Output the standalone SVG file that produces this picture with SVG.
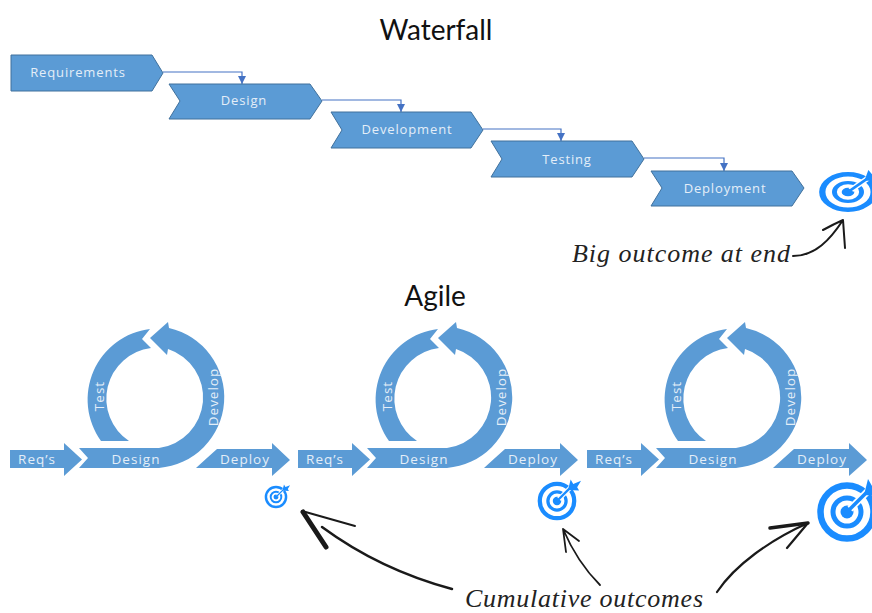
<svg xmlns="http://www.w3.org/2000/svg" width="872" height="613" viewBox="0 0 872 613">
<style>
.sh{fill:#5b9bd5}
.wf{fill:#5b9bd5;stroke:#41719c;stroke-width:1}
.lb{font-family:"Open Sans","Noto Sans",sans-serif;font-size:13px;fill:#e4eef8;text-anchor:middle;letter-spacing:.85px}
.al{font-size:13.5px;letter-spacing:1px}
.ttl{font-family:"Lato","Open Sans",sans-serif;font-size:28px;fill:#111;text-anchor:middle}
.hw{font-family:"Liberation Serif",serif;font-style:italic;font-size:26px;fill:#222}
.cn{fill:none;stroke:#4472c4;stroke-width:1.2}
.sk{fill:none;stroke:#1a1a1a;stroke-linecap:round;stroke-linejoin:round}
.tr{fill:none;stroke:#1a8cff}
</style>
<defs>
<marker id="ah" markerUnits="userSpaceOnUse" markerWidth="9" markerHeight="9" refX="8" refY="4" orient="auto"><path d="M0,0L8,4L0,8Z" fill="#4472c4"/></marker>
<path id="reqs" class="sh" d="M10,450H64V443L82,459.500L64,476V468H10Z"/>
<path id="design" class="sh" d="M79,448H159A51,51 0 0 0 168,349L167,355L150,338L168,322L169,328A71,71 0 0 1 159,468H79L88,458Z"/>
<path id="test" class="sh" d="M101,441A71,71 0 0 1 150,329L142,339L151,348A51,51 0 0 0 129,441Z"/>
<path id="deploy" class="sh" d="M196,468Q208,457 217,449H272V443L290,460L272,476V468Z"/>
<g id="tgt">
<circle class="tr" r="26.500" stroke-width="6.500"/>
<circle class="tr" r="14" stroke-width="5"/>
<circle r="6.500" fill="#1a8cff"/>
<path d="M3,-3L24,-24" stroke="#fff" stroke-width="7"/>
<path d="M0,0L24,-24" stroke="#1a8cff" stroke-width="3.500"/>
<path d="M17,-17L21,-33L25,-26L37,-31L31,-21L34,-16Z" fill="#1a8cff"/>
</g>
</defs>

<text id="title-waterfall" class="ttl" x="436" y="40">Waterfall</text>
<text id="title-agile" class="ttl" x="435" y="306">Agile</text>

<g id="connectors">
<path class="cn" marker-end="url(#ah)" d="M163,72H242V84"/>
<path class="cn" marker-end="url(#ah)" d="M322,100H401V112"/>
<path class="cn" marker-end="url(#ah)" d="M483,129H561V141"/>
<path class="cn" marker-end="url(#ah)" d="M644,158H724V171"/>
<path class="sk" stroke-width="2" d="M793,256C815,256 830,240 843,220M823,230Q834,224 843,220Q844,234 845,248"/>
<path class="sk" stroke-width="2.500" d="M452,589C400,575 360,555 322,527"/>
<path class="sk" stroke-width="2" d="M302,511L355,526"/>
<path class="sk" stroke-width="5" d="M303,512L326,547"/>
<path class="sk" stroke-width="1.800" d="M600,585C585,570 572,550 563,529L579,541M563,529L566,552"/>
<path class="sk" stroke-width="2.200" d="M717,592C735,565 770,540 808,523L787,548"/>
<path class="sk" stroke-width="3.500" d="M770,528L808,523"/>
</g>

<g id="wf-requirements"><path class="wf" d="M11,55H152L163,73L152,91H11Z"/><text class="lb" x="78" y="77">Requirements</text></g>
<g id="wf-design"><path class="wf" d="M169,84H310L322,101L310,119H169L180,101Z"/><text class="lb" x="244" y="105">Design</text></g>
<g id="wf-development"><path class="wf" d="M331,112H471L483,130L471,148H331L342,130Z"/><text class="lb" x="407" y="134">Development</text></g>
<g id="wf-testing"><path class="wf" d="M491,141H632L644,159L632,177H491L502,159Z"/><text class="lb" x="567" y="164">Testing</text></g>
<g id="wf-deployment"><path class="wf" d="M651,171H792L804,188L792,206H651L662,188Z"/><text class="lb" x="725" y="193">Deployment</text></g>

<g id="target-waterfall"><use href="#tgt" transform="translate(848,192) scale(.97,.67)"/></g>

<g id="loop1-reqs"><use href="#reqs"/><text class="lb al" x="37" y="464">Req’s</text></g>
<g id="loop1-design"><use href="#design"/><text class="lb al" x="136" y="464">Design</text></g>
<g id="loop1-test"><use href="#test"/><text class="lb al" transform="translate(104,396) rotate(-90)">Test</text></g>
<g id="loop1-develop"><text class="lb al" transform="translate(218,397) rotate(-90)">Develop</text></g>
<g id="loop1-deploy"><use href="#deploy"/><text class="lb al" x="245" y="464">Deploy</text></g>
<g id="target-1"><use href="#tgt" transform="translate(276,497) scale(.38)"/></g>

<g id="loop2-reqs" transform="translate(288,0)"><use href="#reqs"/><text class="lb al" x="37" y="464">Req’s</text></g>
<g id="loop2-design" transform="translate(288,0)"><use href="#design"/><text class="lb al" x="136" y="464">Design</text></g>
<g id="loop2-test" transform="translate(288,0)"><use href="#test"/><text class="lb al" transform="translate(104,396) rotate(-90)">Test</text></g>
<g id="loop2-develop" transform="translate(288,0)"><text class="lb al" transform="translate(218,397) rotate(-90)">Develop</text></g>
<g id="loop2-deploy" transform="translate(288,0)"><use href="#deploy"/><text class="lb al" x="245" y="464">Deploy</text></g>
<g id="target-2"><use href="#tgt" transform="translate(557,501) scale(.65)"/></g>

<g id="loop3-reqs" transform="translate(577,0)"><use href="#reqs"/><text class="lb al" x="37" y="464">Req’s</text></g>
<g id="loop3-design" transform="translate(577,0)"><use href="#design"/><text class="lb al" x="136" y="464">Design</text></g>
<g id="loop3-test" transform="translate(577,0)"><use href="#test"/><text class="lb al" transform="translate(104,396) rotate(-90)">Test</text></g>
<g id="loop3-develop" transform="translate(577,0)"><text class="lb al" transform="translate(218,397) rotate(-90)">Develop</text></g>
<g id="loop3-deploy" transform="translate(577,0)"><use href="#deploy"/><text class="lb al" x="245" y="464">Deploy</text></g>
<g id="target-3"><use href="#tgt" transform="translate(847,512)"/></g>

<text id="note-big" class="hw" x="572" y="262" textLength="218" lengthAdjust="spacing">Big outcome at end</text>
<text id="note-cumulative" class="hw" x="465" y="607" textLength="238" lengthAdjust="spacing">Cumulative outcomes</text>
</svg>
